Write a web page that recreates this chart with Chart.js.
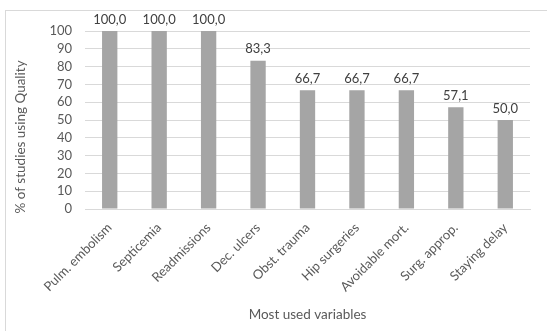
<!DOCTYPE html>
<html>
<head>
<meta charset="utf-8">
<script src="https://cdn.jsdelivr.net/npm/chart.js@4/dist/chart.umd.min.js"></script>
<style>
  html, body { margin: 0; padding: 0; background: #fff; overflow: hidden; }
  #wrap { position: relative; width: 547px; height: 331px; overflow: hidden; }
  #frame { position: absolute; left: 5px; top: 10px; width: 600px; height: 400px; border: 1px solid #d9d9d9; box-sizing: border-box; }
  canvas { position: absolute; left: 0; top: 0; }
</style>
</head>
<body>
<div id="wrap">
  <div id="frame"></div>
  <canvas id="c" width="547" height="331"></canvas>
</div>
<script>
const categories = ["Pulm. embolism", "Septicemia", "Readmissions", "Dec. ulcers", "Obst. trauma", "Hip surgeries", "Avoidable mort.", "Surg. approp.", "Staying delay"];
const percentages = [100.0, 100.0, 100.0, 83.3, 66.7, 66.7, 66.7, 57.1, 50.0];
const yTicks = [0, 10, 20, 30, 40, 50, 60, 70, 80, 90, 100];
const yTitle = "% of studies using Quality";

const FONT = "Lato, 'Open Sans', sans-serif";
const TEXT = "#595959";

// Value labels above each bar (decimal comma) and the vertical axis title
const valueLabels = {
  id: "valueLabels",
  afterDatasetsDraw(chart) {
    const ctx = chart.ctx;
    const meta = chart.getDatasetMeta(0);
    ctx.save();
    ctx.font = "13px " + FONT;
    ctx.fillStyle = "#404040";
    ctx.textAlign = "center";
    ctx.textBaseline = "bottom";
    meta.data.forEach((bar, i) => {
      const txt = percentages[i].toFixed(1).replace(".", ",");
      ctx.fillText(txt, bar.x, bar.y - 5);
    });
    ctx.restore();

    ctx.save();
    ctx.font = "13.5px " + FONT;
    ctx.fillStyle = TEXT;
    ctx.textAlign = "center";
    ctx.textBaseline = "middle";
    ctx.translate(21, 137);
    ctx.rotate(-Math.PI / 2);
    ctx.fillText(yTitle, 0, 0);
    ctx.restore();
  }
};

new Chart(document.getElementById("c"), {
  type: "bar",
  data: {
    labels: categories,
    datasets: [{
      data: percentages,
      backgroundColor: "#a5a5a5",
      categoryPercentage: 1.0,
      barPercentage: 0.31
    }]
  },
  options: {
    responsive: false,
    animation: false,
    events: [],
    layout: { padding: { top: 31, right: 17, left: 0, bottom: 0 } },
    plugins: { legend: { display: false }, tooltip: { enabled: false } },
    scales: {
      x: {
        afterFit(s) { s.height = 122; },
        grid: { display: false, drawTicks: false },
        border: { display: true, color: "#d9d9d9" },
        ticks: {
          color: TEXT, font: { family: FONT, size: 13 },
          maxRotation: 45, minRotation: 45, autoSkip: false, padding: 11
        },
        title: {
          display: true, text: "Most used variables", color: TEXT,
          font: { family: FONT, size: 13.5 }, padding: { top: 0, bottom: 8 }
        }
      },
      y: {
        min: 0, max: 100,
        afterFit(s) { s.width = 85; },
        afterBuildTicks(s) { s.ticks = yTicks.map(v => ({ value: v })); },
        grid: { color: "#d9d9d9", drawTicks: false },
        border: { display: false },
        ticks: { color: TEXT, font: { family: FONT, size: 13 }, padding: 13, autoSkip: false, stepSize: 10 }
      }
    }
  },
  plugins: [valueLabels]
});
</script>
</body>
</html>
